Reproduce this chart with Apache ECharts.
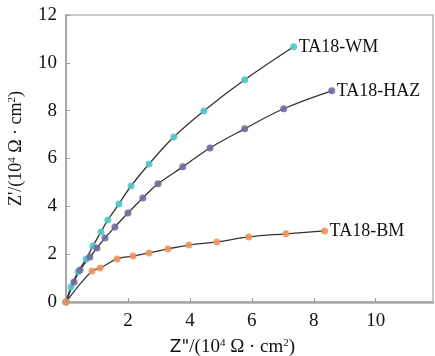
<!DOCTYPE html>
<html>
<head>
<meta charset="utf-8">
<script src="https://cdn.jsdelivr.net/npm/echarts@6/dist/echarts.min.js"></script>
<style>
  html, body { margin: 0; padding: 0; background: #fff; }
  #chart { width: 435px; height: 356px; }
</style>
</head>
<body>
<div id="chart"></div>
<script>
// Nyquist data: [Z'', Z'] in 10^4 ohm·cm2
const wmData = [
  [0, 0], [0.16, 0.63], [0.39, 1.26], [0.65, 1.80], [0.87, 2.34], [1.13, 2.93],
  [1.35, 3.43], [1.71, 4.10], [2.10, 4.85], [2.68, 5.77], [3.48, 6.90],
  [4.45, 7.99], [5.77, 9.29], [7.35, 10.67]
]
const hazData = [
  [0, 0], [0.26, 0.84], [0.45, 1.34], [0.77, 1.88], [1.00, 2.26], [1.26, 2.68],
  [1.58, 3.14], [2.00, 3.72], [2.48, 4.35], [2.97, 4.94], [3.77, 5.65],
  [4.65, 6.44], [5.77, 7.24], [7.03, 8.08], [8.58, 8.83]
]
const bmData = [
  [0, 0], [0.84, 1.30], [1.10, 1.42], [1.65, 1.80], [2.16, 1.92], [2.68, 2.05],
  [3.29, 2.22], [3.97, 2.38], [4.87, 2.51], [5.90, 2.72], [7.10, 2.85], [8.35, 2.97]
]
const seriesNames = ['TA18-WM', 'TA18-HAZ', 'TA18-BM']
const markerColors = ['#52c6c9', '#6e6c9e', '#f0935e']
const xTickLabels = [2, 4, 6, 8, 10]

const chart = echarts.init(document.getElementById('chart'), null, { renderer: 'canvas' })

const serif = 'Liberation Serif'
const sup = { fontFamily: serif, fontSize: 11, verticalAlign: 'top', padding: [0, 0, 8, 0], color: '#111' }

const makeSeries = (name, data, color) => ({
  name: name,
  type: 'line',
  data: data,
  smooth: 0.4,
  symbol: 'circle',
  symbolSize: 7,
  showAllSymbol: true,
  itemStyle: { color: color, opacity: 0.9 },
  lineStyle: { color: '#333', width: 1.3 },
  endLabel: {
    show: true,
    formatter: name,
    fontFamily: serif,
    fontSize: 18,
    color: '#111',
    distance: 5
  }
})

chart.setOption({
  animation: false,
  backgroundColor: '#fff',
  grid: {
    left: 66, right: 2, top: 15, bottom: 54,
    outerBoundsMode: 'none',
    containLabel: false,
    show: true, borderColor: '#b5b5b5', borderWidth: 1.5
  },
  xAxis: {
    type: 'value',
    min: 0, max: 11.85, interval: 2,
    name: '{z|Z"}{t|/(10}{s|4}{t| Ω · cm}{s|2}{t|)}',
    nameLocation: 'middle',
    nameGap: 36,
    nameTextStyle: {
      padding: [0, 34, 0, 0],
      rich: {
        z: { fontFamily: 'DejaVu Sans', fontSize: 17, color: '#111' },
        t: { fontFamily: serif, fontSize: 19, color: '#111' },
        s: sup
      }
    },
    axisLine: { show: true, lineStyle: { color: '#a8a8a8', width: 2.5 } },
    axisTick: { show: true, inside: true, length: 4, lineStyle: { color: '#999' } },
    splitLine: { show: false },
    axisLabel: {
      fontFamily: serif, fontSize: 19, color: '#111', margin: 10,
      showMaxLabel: false,
      formatter: v => (xTickLabels.includes(v) ? String(v) : '')
    }
  },
  yAxis: {
    type: 'value',
    min: 0, max: 12, interval: 2,
    name: "{t|Z'/(10}{s|4}{t| Ω · cm}{s|2}{t|)}",
    nameLocation: 'middle',
    nameGap: 40,
    nameRotate: 90,
    nameTextStyle: {
      padding: [0, 0, 0, 20],
      rich: {
        t: { fontFamily: serif, fontSize: 18, color: '#111' },
        s: sup
      }
    },
    axisLine: { show: true, lineStyle: { color: '#a8a8a8', width: 2 } },
    axisTick: { show: true, inside: true, length: 4, lineStyle: { color: '#999' } },
    splitLine: { show: false },
    axisLabel: { fontFamily: serif, fontSize: 19, color: '#111', margin: 9 }
  },
  series: [
    makeSeries(seriesNames[0], wmData, markerColors[0]),
    makeSeries(seriesNames[1], hazData, markerColors[1]),
    makeSeries(seriesNames[2], bmData, markerColors[2])
  ]
})
</script>
</body>
</html>
